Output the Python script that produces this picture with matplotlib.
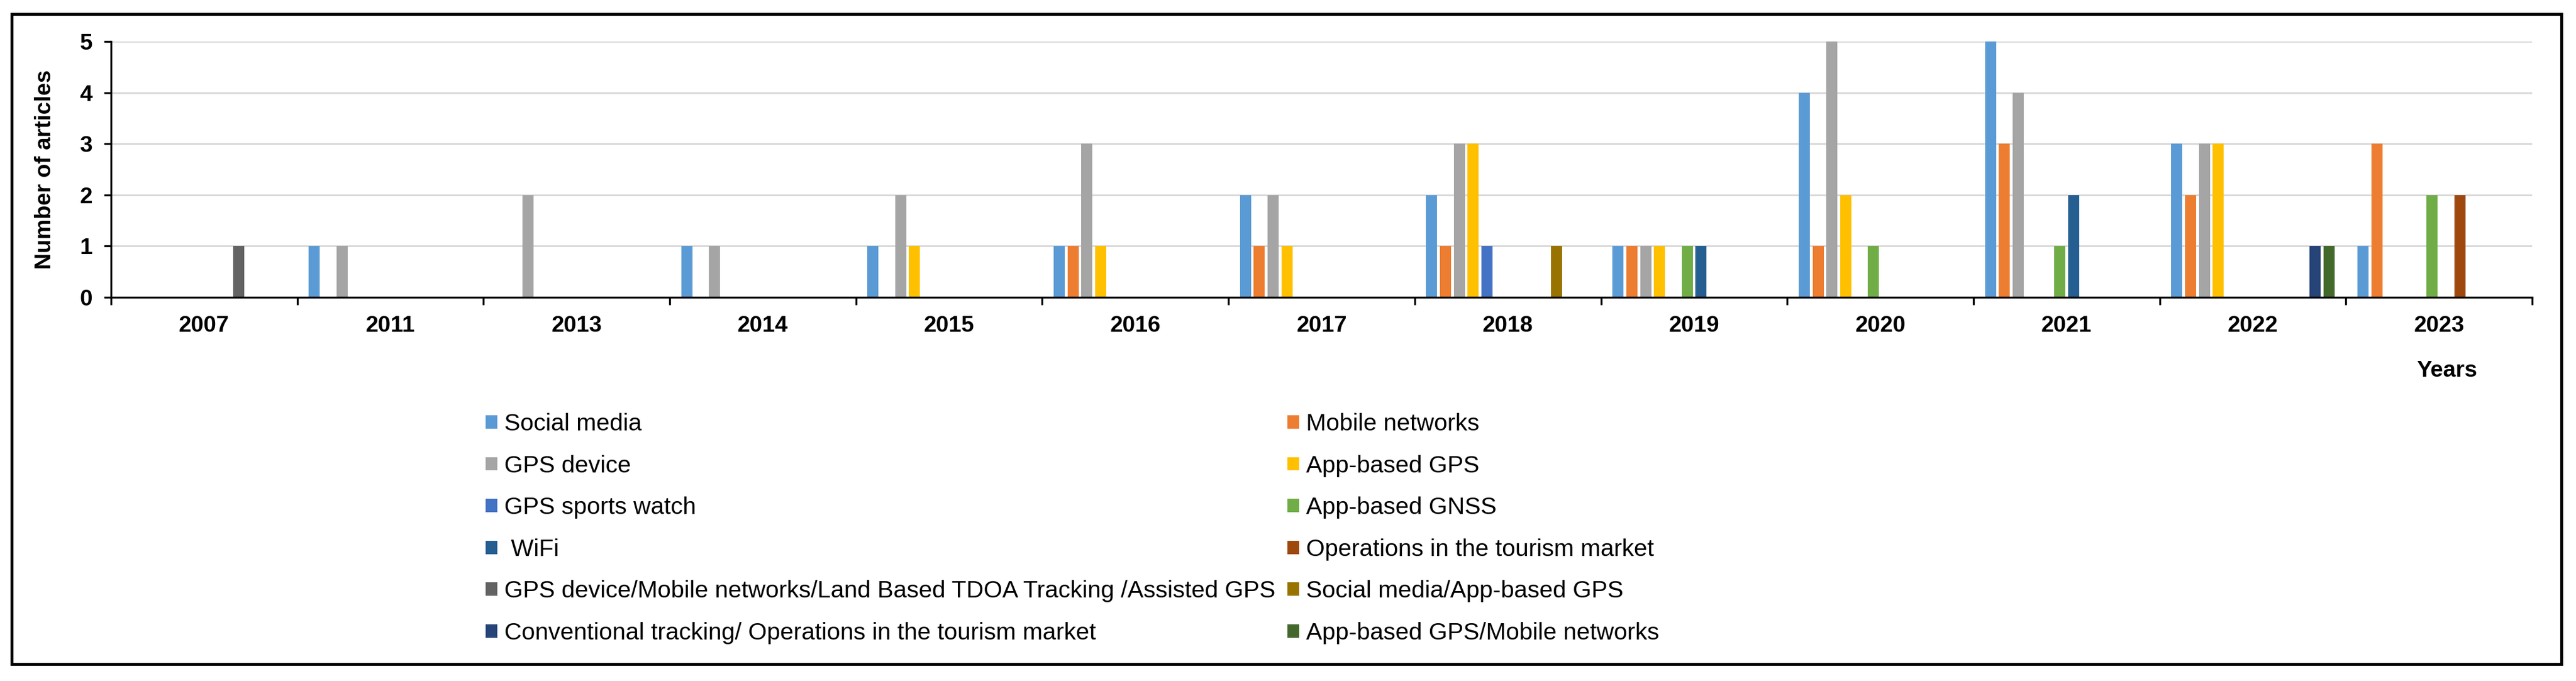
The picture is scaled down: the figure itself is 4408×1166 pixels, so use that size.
import numpy as np
import matplotlib
matplotlib.use('Agg')
import matplotlib.pyplot as plt
from matplotlib.patches import Patch, Rectangle

plt.rcParams['font.family'] = ['Liberation Sans', 'DejaVu Sans']

years = ['2007', '2011', '2013', '2014', '2015', '2016', '2017',
         '2018', '2019', '2020', '2021', '2022', '2023']

series_names = [
    'Social media',
    'Mobile networks',
    'GPS device',
    'App-based GPS',
    'GPS sports watch',
    'App-based GNSS',
    ' WiFi',
    'Operations in the tourism market',
    'GPS device/Mobile networks/Land Based TDOA Tracking /Assisted GPS',
    'Social media/App-based GPS',
    'Conventional tracking/ Operations in the tourism market',
    'App-based GPS/Mobile networks',
]

social_media   = [0, 1, 0, 1, 1, 1, 2, 2, 1, 4, 5, 3, 1]
mobile_net     = [0, 0, 0, 0, 0, 1, 1, 1, 1, 1, 3, 2, 3]
gps_device     = [0, 1, 2, 1, 2, 3, 2, 3, 1, 5, 4, 3, 0]
app_gps        = [0, 0, 0, 0, 1, 1, 1, 3, 1, 2, 0, 3, 0]
sports_watch   = [0, 0, 0, 0, 0, 0, 0, 1, 0, 0, 0, 0, 0]
app_gnss       = [0, 0, 0, 0, 0, 0, 0, 0, 1, 1, 1, 0, 2]
wifi           = [0, 0, 0, 0, 0, 0, 0, 0, 1, 0, 2, 0, 0]
tourism_ops    = [0, 0, 0, 0, 0, 0, 0, 0, 0, 0, 0, 0, 2]
gps_combo      = [1, 0, 0, 0, 0, 0, 0, 0, 0, 0, 0, 0, 0]
social_app     = [0, 0, 0, 0, 0, 0, 0, 1, 0, 0, 0, 0, 0]
conventional   = [0, 0, 0, 0, 0, 0, 0, 0, 0, 0, 0, 1, 0]
app_mobile     = [0, 0, 0, 0, 0, 0, 0, 0, 0, 0, 0, 1, 0]

values = [social_media, mobile_net, gps_device, app_gps, sports_watch, app_gnss,
          wifi, tourism_ops, gps_combo, social_app, conventional, app_mobile]

colors = ['#5B9BD5', '#ED7D31', '#A5A5A5', '#FFC000', '#4472C4', '#70AD47',
          '#255E91', '#9E480E', '#636363', '#997300', '#264478', '#43682B']

W, H = 4408, 1166
fig = plt.figure(figsize=(W / 100, H / 100), dpi=100)
ax = fig.add_axes([190 / W, 1 - 509 / H, (4333 - 190) / W, (509 - 71) / H])

x = np.arange(len(years))
step = 0.0743
bw = 0.0596
for i, (vals, c) in enumerate(zip(values, colors)):
    ax.bar(x + (i - 5.5) * step, vals, width=bw, color=c, zorder=3)

ax.set_xlim(-0.5, len(years) - 0.5)
ax.set_ylim(0, 5)
ax.set_yticks(range(6))
ax.yaxis.grid(True, color='#D9D9D9', linewidth=2.2, zorder=0)
ax.set_axisbelow(True)

for s in ['top', 'right']:
    ax.spines[s].set_visible(False)
for s in ['left', 'bottom']:
    ax.spines[s].set_linewidth(2.4)
    ax.spines[s].set_zorder(4)

ax.set_xticks(np.arange(len(years) + 1) - 0.5)
ax.set_xticklabels([])
ax.set_xticks(x, minor=True)
ax.set_xticklabels(years, minor=True, fontsize=28, fontweight='bold')
ax.tick_params(axis='x', which='major', direction='out', length=9, width=2.4)
ax.tick_params(axis='x', which='minor', length=0, pad=22)
ax.tick_params(axis='y', direction='out', length=9, width=2.4, pad=14,
               labelsize=28)
for lab in ax.get_yticklabels():
    lab.set_fontweight('bold')

ax.set_ylabel('Number of articles', fontsize=28, fontweight='bold')
ax.yaxis.set_label_coords((95 - 190) / (4333 - 190), 0.5)

fig.text(4187 / W, 1 - 635 / H, 'Years', fontsize=28, fontweight='bold',
         ha='center', va='center')

# legend is filled row by row in the original, matplotlib fills columns
handles = [Patch(facecolor=c, edgecolor='none') for c in colors]
order = list(range(0, 12, 2)) + list(range(1, 12, 2))
fig.legend([handles[k] for k in order], [series_names[k] for k in order],
           loc='center', ncol=2,
           bbox_to_anchor=(1835 / W, 1 - 905 / H), frameon=False,
           fontsize=29.5, handlelength=0.48, handleheight=0.48,
           handletextpad=0.3, columnspacing=0.5, labelspacing=0.82,
           borderpad=0)

fig.patches.append(Rectangle((20 / W, 1 - 1137 / H), 4363 / W, 1113 / H,
                             transform=fig.transFigure, fill=False,
                             edgecolor='black', linewidth=3.6))

fig.savefig('out.png', dpi=100)
